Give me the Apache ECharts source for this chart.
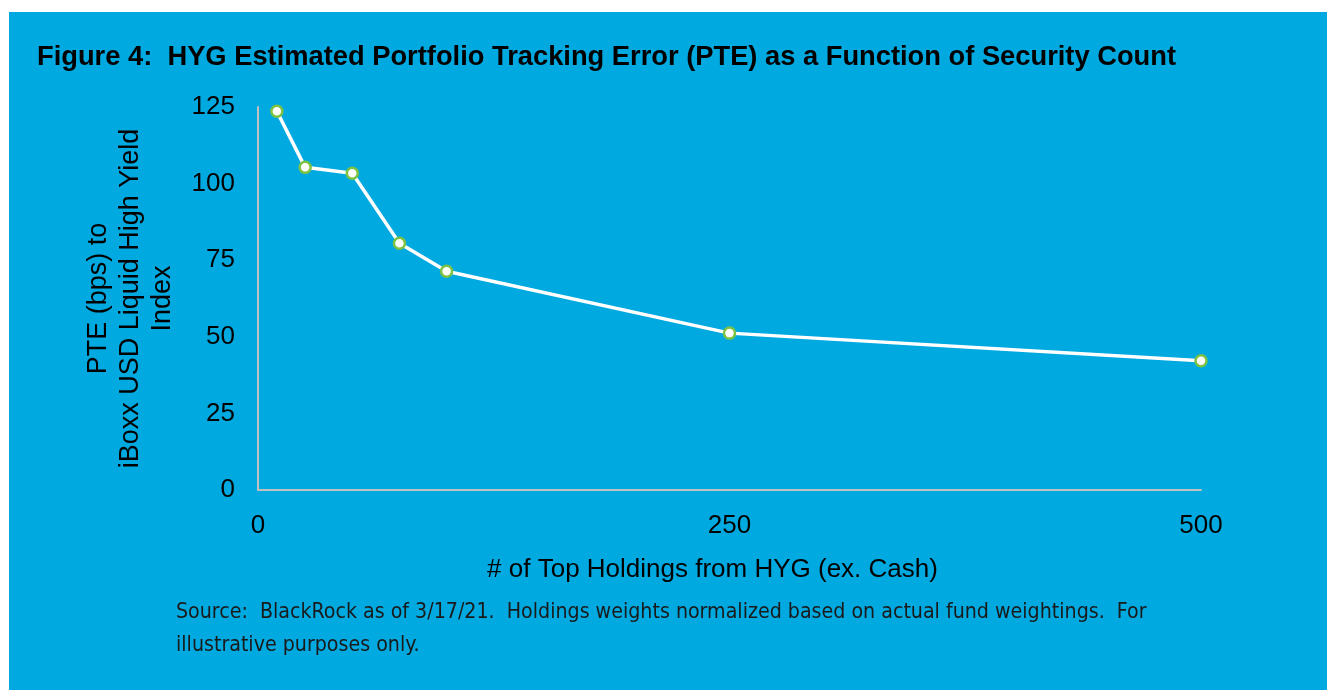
<!DOCTYPE html>
<html>
<head>
<meta charset="utf-8">
<script src="https://cdn.jsdelivr.net/npm/echarts@6/dist/echarts.min.js"></script>
<style>
  html, body { margin: 0; padding: 0; background: #ffffff; }
  #panel { position: absolute; left: 9px; top: 12px; right: 0; bottom: 0; background: #00A9E0; }
  #chart { position: absolute; left: 0; top: 0; width: 1327px; height: 690px; }
</style>
</head>
<body>
<div id="panel"></div>
<div id="chart"></div>
<script>
// number of top holdings vs estimated PTE (bps)
const holdings = [10, 25, 50, 75, 100, 250, 500];
const pte = [123.6, 105.3, 103.4, 80.5, 71.4, 51.2, 42.2];
const yTicks = [0, 25, 50, 75, 100, 125];
const xTicks = [0, 250, 500];

const titleText = 'Figure 4:  HYG Estimated Portfolio Tracking Error (PTE) as a Function of Security Count';
const sourceText = 'Source:  BlackRock as of 3/17/21.  Holdings weights normalized based on actual fund weightings.  For\nillustrative purposes only.';

const font = '"Liberation Sans", Arial, sans-serif';

let myChart = echarts.init(document.getElementById('chart'));
let option = {
  backgroundColor: 'transparent',
  animation: false,
  title: [
    {
      text: titleText,
      left: 32,
      top: 39,
      textStyle: { fontFamily: font, fontWeight: 'bold', fontSize: 27.3, color: '#000' }
    },
    {
      text: sourceText,
      left: 171,
      top: 591,
      textStyle: { fontFamily: '"Liberation Sans Narrow", "DejaVu Sans Condensed", sans-serif', fontWeight: 'normal', fontSize: 21.2, lineHeight: 33, color: '#1a1a1a' }
    }
  ],
  grid: { left: 258, right: 126, top: 107, bottom: 200 },
  xAxis: {
    type: 'value',
    min: xTicks[0],
    max: xTicks[xTicks.length - 1],
    interval: 250,
    name: '# of Top Holdings from HYG (ex. Cash)',
    nameLocation: 'middle',
    nameGap: 67,
    nameTextStyle: { fontFamily: font, fontSize: 26, color: '#000', padding: [0, 34, 0, 0] },
    axisLine: { show: true, lineStyle: { color: '#BFBFBF', width: 2 } },
    axisTick: { show: false },
    splitLine: { show: false },
    axisLabel: { fontFamily: font, fontSize: 26, color: '#000', margin: 23 }
  },
  yAxis: {
    type: 'value',
    min: yTicks[0],
    max: yTicks[yTicks.length - 1],
    interval: 25,
    name: 'PTE (bps) to\niBoxx USD Liquid High Yield\nIndex',
    nameLocation: 'middle',
    nameGap: 79,
    nameRotate: 90,
    nameTextStyle: { fontFamily: font, fontSize: 27, lineHeight: 32, color: '#000', align: 'center' },
    axisLine: { show: true, lineStyle: { color: '#BFBFBF', width: 2 } },
    axisTick: { show: false },
    splitLine: { show: false },
    axisLabel: { fontFamily: font, fontSize: 26, color: '#000', margin: 23 }
  },
  series: [
    {
      type: 'line',
      data: holdings.map((h, i) => [h, pte[i]]),
      symbol: 'circle',
      symbolSize: 11,
      showAllSymbol: true,
      lineStyle: { color: '#ffffff', width: 3.5 },
      itemStyle: { color: '#ffffff', borderColor: '#7DC242', borderWidth: 2.5 },
      z: 3
    }
  ]
};
option && myChart.setOption(option);
</script>
</body>
</html>
